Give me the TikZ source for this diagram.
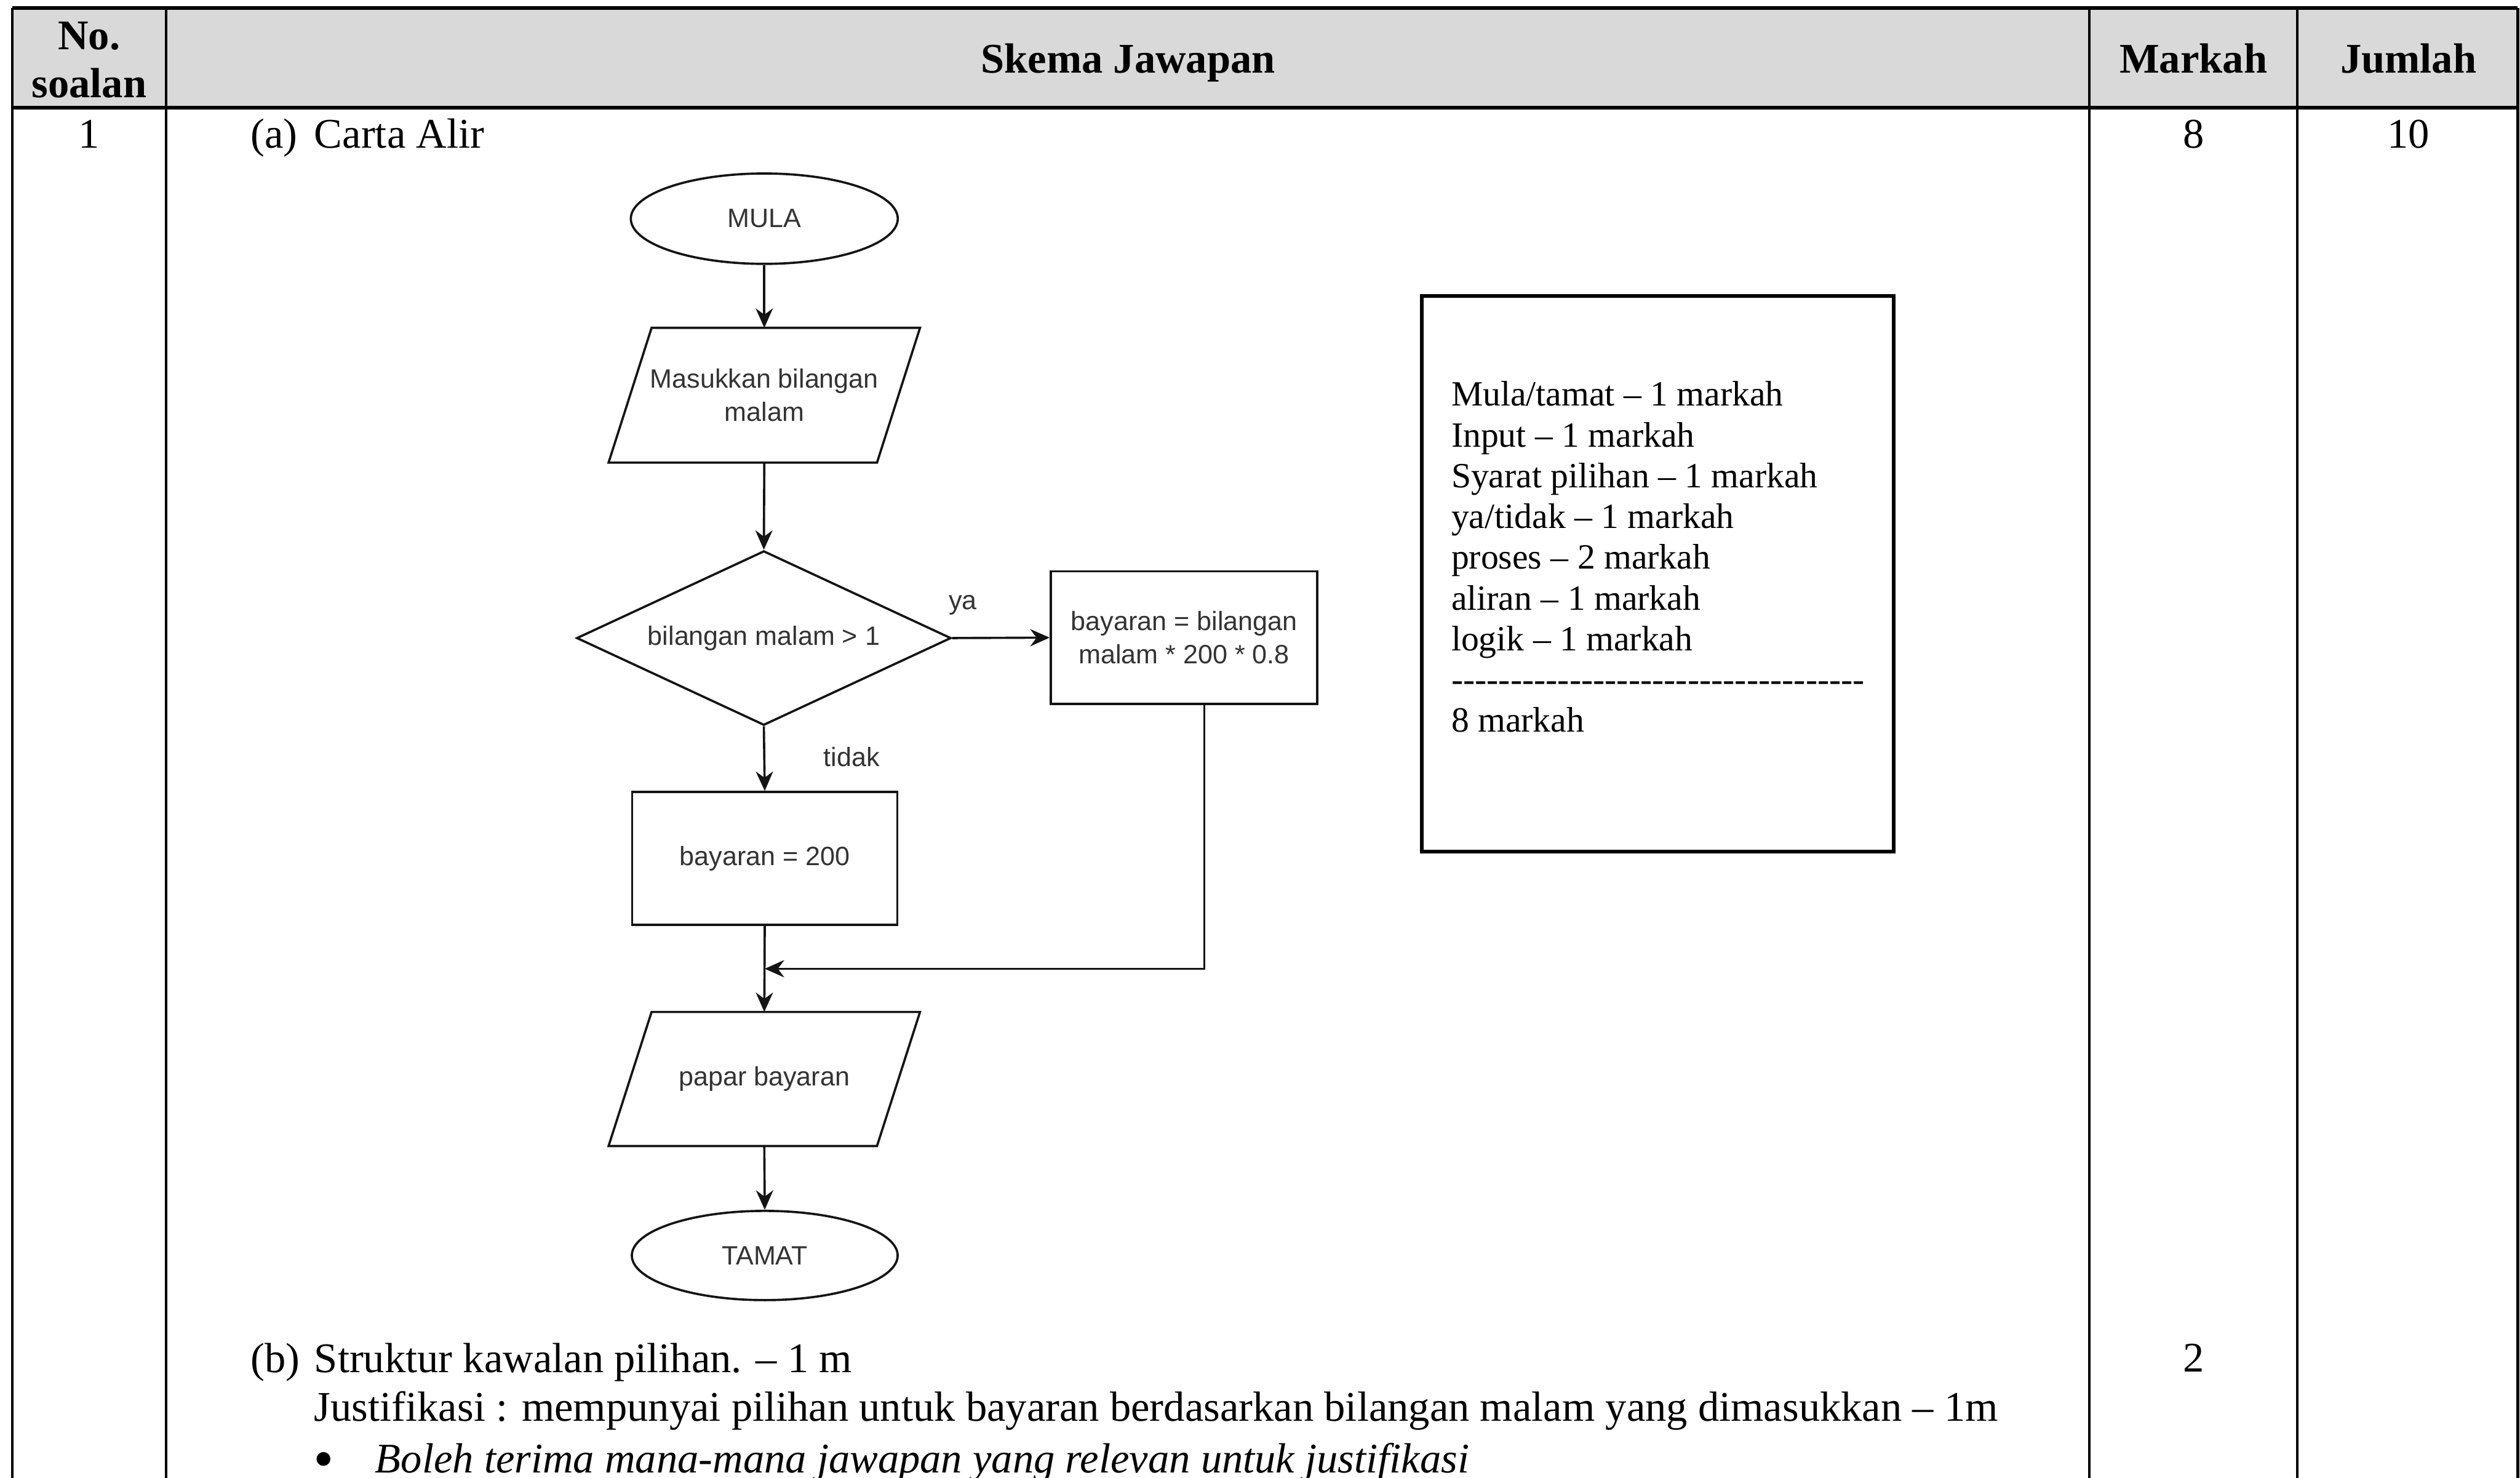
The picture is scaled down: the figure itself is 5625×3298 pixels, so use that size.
\documentclass[tikz,border=0pt]{standalone}
\usepackage{fontspec}
\setmainfont{Liberation Serif}
\newfontfamily\fcfont{Liberation Sans}
\usetikzlibrary{shapes.geometric,arrows.meta,calc}
\definecolor{hdr}{RGB}{217,217,217}
\definecolor{fctext}{RGB}{51,51,51}
\definecolor{fcline}{RGB}{20,20,20}
\newcommand{\hy}{\mbox{-}}
\newcommand{\hyfive}{\hy\hy\hy\hy\hy}
\newcommand{\dashrow}{\hyfive\hyfive\hyfive\hyfive\hyfive\hyfive\hyfive}
\begin{document}
\begin{tikzpicture}[x=0.12pt,y=-0.12pt,
  tbl/.style={line width=0.7pt},
  tblh/.style={line width=0.9pt},
  txt/.style={font=\fontsize{11.3}{13.5}\selectfont, inner sep=0pt, anchor=base},
  txtl/.style={txt, anchor=base west},
  hd/.style={txt, font=\fontsize{11.3}{13.5}\selectfont\bfseries},
  fc/.style={draw=fcline, line width=0.6pt, font=\fcfont\fontsize{7.1}{9}\selectfont, text=fctext, align=center, inner sep=0pt},
  term/.style={fc, ellipse},
  proc/.style={fc, rectangle},
  io/.style={fc, draw=none, rectangle},
  dec/.style={fc, diamond},
  lbl/.style={font=\fcfont\fontsize{7.1}{9}\selectfont, text=fctext, inner sep=0pt},
  arr/.style={draw=fcline, line width=0.6pt, -{Stealth[length=5.2pt,width=4.6pt]}},
  ln/.style={draw=fcline, line width=0.6pt},
  mk/.style={font=\fontsize{9.5}{11}\selectfont, inner sep=0pt, anchor=base west},
  dot/.style={circle, fill=black, inner sep=0pt, minimum size=3.7pt}
]
\useasboundingbox (0,0) rectangle (5625,3298);
% table
\fill[hdr] (27,18) rectangle (5620,240);
\draw[tblh] (27,18) -- (5620,18);
\draw[tblh] (27,240) -- (5620,240);
\foreach \x in {27,371,4664,5128,5620} \draw[tbl] (\x,18) -- (\x,3298);
% header
\node[hd] (h1a) at (199,110) {No.};
\node[hd] (h1b) at (199,218) {soalan};
\node[hd] (h2) at (2518,163) {Skema Jawapan};
\node[hd] (h3) at (4896,163) {Markah};
\node[hd] (h4) at (5376,163) {Jumlah};
% row text
\node[txt] (n1) at (199,330) {1};
\node[txtl] (qa) at (558,330) {(a)};
\node[txtl] (qat) at (700,330) {Carta Alir};
\node[txt] (ma) at (4896,330) {8};
\node[txt] (ja) at (5376,330) {10};
\node[txtl] (qb) at (558,3063) {(b)};
\node[txtl] (qbt) at (700,3063) {Struktur kawalan pilihan. – 1 m};
\node[txt] (mb) at (4896,3062) {2};
\node[txtl] (just) at (700,3172) {Justifikasi : mempunyai pilihan untuk bayaran berdasarkan bilangan malam yang dimasukkan – 1m};
\node[dot] (bul) at (722,3256) {};
\node[txtl, font=\fontsize{11.3}{13.5}\selectfont\itshape] (bol) at (836,3287) {Boleh terima mana-mana jawapan yang relevan untuk justifikasi};
% flowchart
\node[term, minimum width=71.5pt, minimum height=24.2pt] (mula) at (1706,488) {MULA};
\node[io, minimum width=71.3pt, minimum height=35.5pt] (masuk) at (1706,882) {Masukkan bilangan\\malam};
\draw[ln] ($(masuk.north west)+(48,0)$) -- ($(masuk.north east)+(48,0)$) -- ($(masuk.south east)+(-48,0)$) -- ($(masuk.south west)+(-48,0)$) -- cycle;
\node[dec, aspect=2.15, minimum width=100.3pt, minimum height=46.7pt] (dec) at (1705,1424) {bilangan malam > 1};
\node[proc, minimum width=71.4pt, minimum height=35.5pt] (p1) at (2643,1423) {bayaran = bilangan\\malam * 200 * 0.8};
\node[proc, minimum width=71pt, minimum height=35.6pt] (p2) at (1707,1916) {bayaran = 200};
\node[io, minimum width=71.3pt, minimum height=35.3pt] (papar) at (1706,2408) {papar bayaran};
\draw[ln] ($(papar.north west)+(48,0)$) -- ($(papar.north east)+(48,0)$) -- ($(papar.south east)+(-48,0)$) -- ($(papar.south west)+(-48,0)$) -- cycle;
\node[term, minimum width=71.2pt, minimum height=23.9pt] (tamat) at (1707,2802) {TAMAT};
\node[lbl] (ya) at (2149,1350) {ya};
\node[lbl] (tidak) at (1901,1689) {tidak};
\coordinate (merge) at (1707,2162);
\coordinate (turn) at (2688,2162);
\draw[arr] (mula.south) -- (masuk.north);
\draw[arr] (masuk.south) -- (dec.north);
\draw[arr] (dec.east) -- (p1.west);
\draw[arr] (dec.south) -- (p2.north);
\draw[arr] (p2.south) -- (papar.north);
\draw[arr] (p1.south -| turn) -- (turn) -- (merge);
\draw[arr] (papar.south) -- (tamat.north);
% marks box
\node[draw, line width=1pt, minimum width=126.4pt, minimum height=148.8pt, inner sep=0pt] (mbox) at (3700.5,1281) {};
\foreach \t [count=\i] in {Mula/tamat – 1 markah, Input – 1 markah, Syarat pilihan – 1 markah, ya/tidak – 1 markah, proses – 2 markah, aliran – 1 markah, logik – 1 markah, \dashrow, 8 markah}
  \node[mk] (m\i) at (3238,{906+(\i-1)*91}) {\t};
\end{tikzpicture}
\end{document}
